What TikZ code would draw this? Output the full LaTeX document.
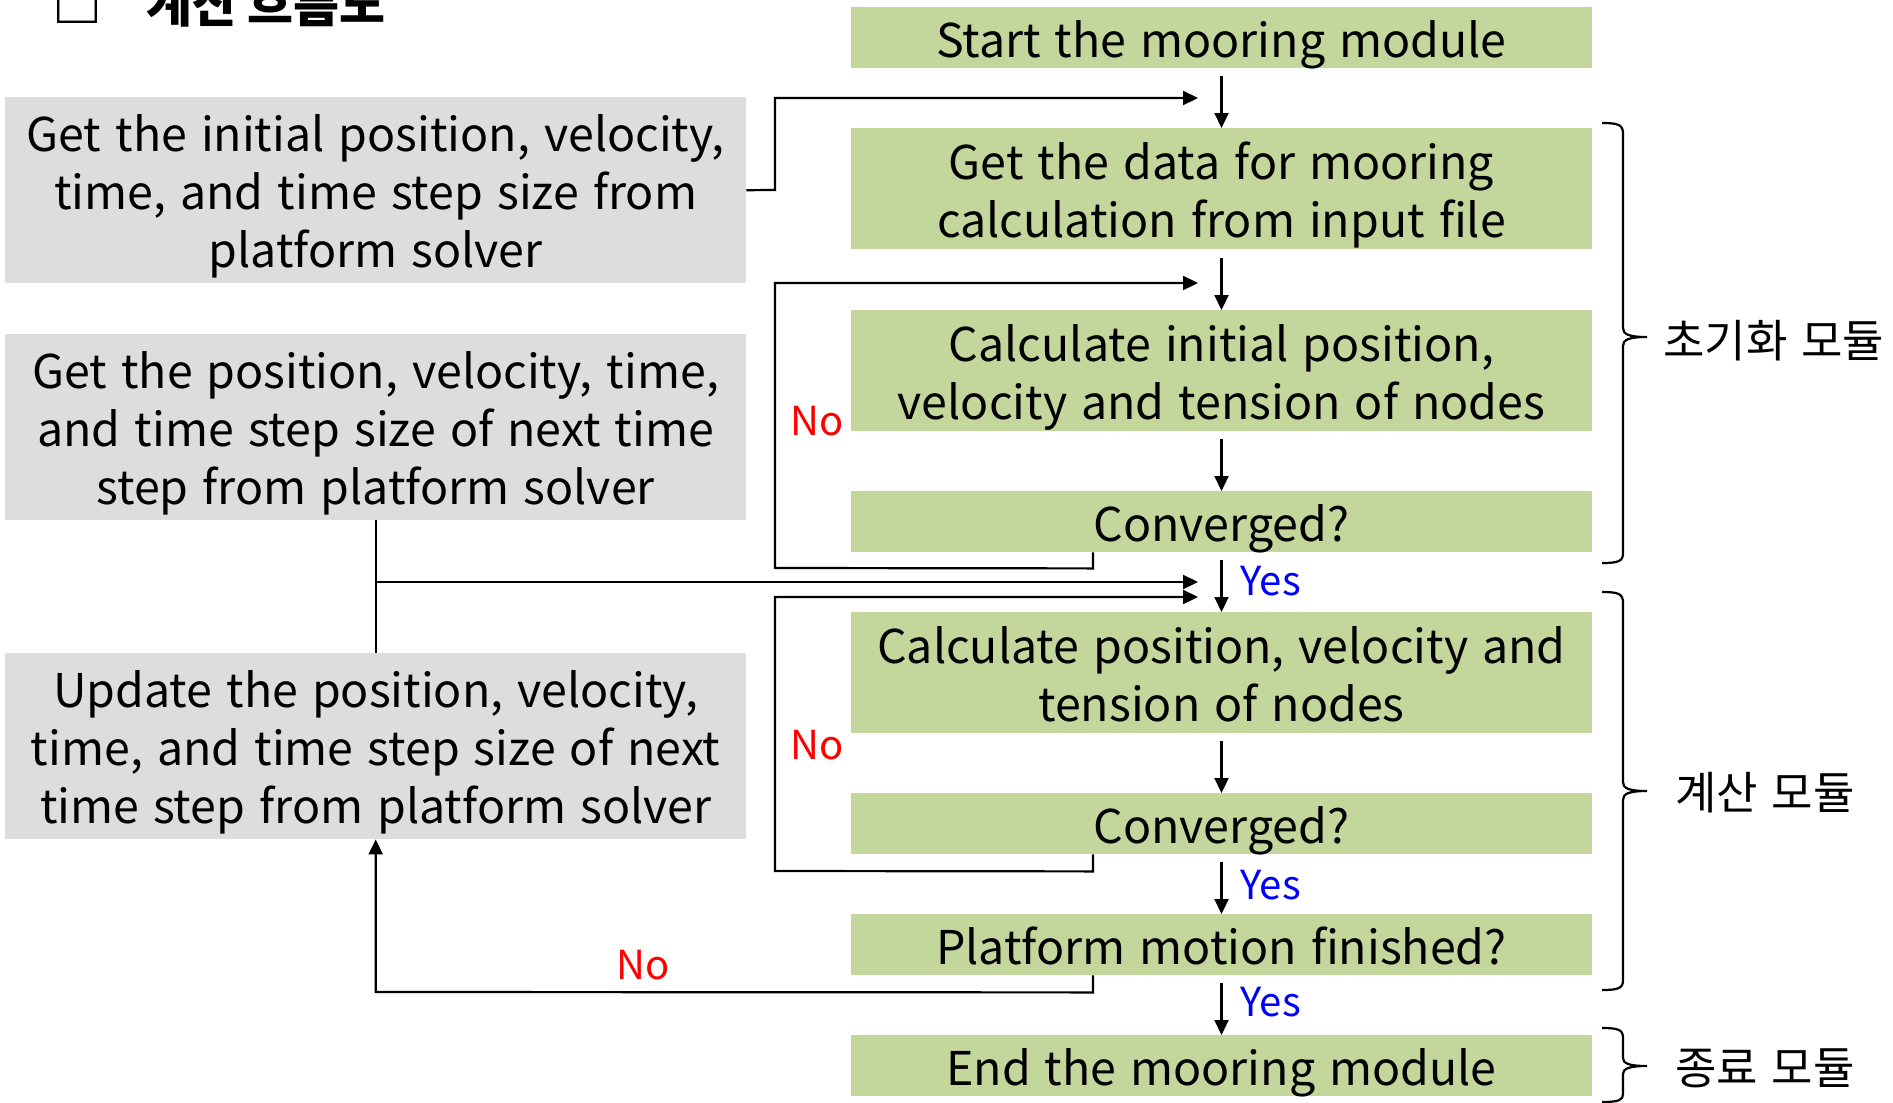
\documentclass[tikz,border=0pt]{standalone}
\usepackage{fontspec}
\setmainfont[WordSpace=1.35]{Noto Sans CJK KR}
\usetikzlibrary{arrows.meta,calc}
\definecolor{stepgreen}{HTML}{C3D69B}
\definecolor{solvergray}{HTML}{DDDDDD}
\definecolor{nored}{HTML}{FF0000}
\definecolor{yesblue}{HTML}{0000FF}
% centred block of lines, set slightly below the optical middle of its box
\newcommand{\boxlines}[1]{\raisebox{-8pt}[\height][\depth]{\begin{tabular}{@{}c@{}}#1\end{tabular}}}
\begin{document}
\begin{tikzpicture}[x=1pt,y=-1pt,
  txt/.style={font=\fontsize{46.5}{58}\selectfont},
  greenbox/.style={txt,fill=stepgreen,minimum width=741pt,inner sep=0pt,anchor=north},
  onerow/.style={greenbox,minimum height=61pt},
  tworow/.style={greenbox,minimum height=121pt},
  graybox/.style={txt,fill=solvergray,minimum width=741pt,minimum height=186pt,inner sep=0pt,anchor=north west},
  wire/.style={line width=2.2pt,line join=miter},
  flow/.style={wire,-{Triangle[length=15pt,width=14pt]}},
  nolabel/.style={text=nored,font=\fontsize{40}{48}\selectfont},
  yeslabel/.style={text=yesblue,font=\fontsize{40}{48}\selectfont,anchor=west},
  modlabel/.style={font=\fontsize{45}{50}\selectfont,anchor=west},
  bracket/.style={line width=2.2pt}]
\useasboundingbox (0,0) rectangle (1893,1103);

% heading, mostly above the top edge
\node[anchor=base west,font=\bfseries\fontsize{50}{56}\selectfont,inner sep=0pt] (hbox) at (52,22) {□};
\node[anchor=base west,font=\bfseries\fontsize{50}{56}\selectfont,inner sep=0pt] (hw1) at (146,22) {계산};
\node[anchor=base west,font=\bfseries\fontsize{50}{56}\selectfont,inner sep=0pt] (hw2) at (247,22) {흐름도};

% main column
\node[onerow] (start) at (1221.5,7)   {\boxlines{Start the mooring module}};
\node[tworow] (data)  at (1221.5,128) {\boxlines{Get the data for mooring\\calculation from input file}};
\node[tworow] (init)  at (1221.5,310) {\boxlines{Calculate initial position,\\velocity and tension of nodes}};
\node[onerow] (conv1) at (1221.5,491) {\boxlines{Converged?}};
\node[tworow] (calc)  at (1221.5,612) {\boxlines{Calculate position, velocity and\\tension of nodes}};
\node[onerow] (conv2) at (1221.5,793) {\boxlines{Converged?}};
\node[onerow] (plat)  at (1221.5,914) {\boxlines{Platform motion finished?}};
\node[onerow] (endm)  at (1221.5,1035) {\boxlines{End the mooring module}};

% platform solver column
\node[graybox] (g1) at (5,97)  {\boxlines{Get the initial position, velocity,\\time, and time step size from\\platform solver}};
\node[graybox] (g2) at (5,334) {\boxlines{Get the position, velocity, time,\\and time step size of next time\\step from platform solver}};
\node[graybox] (g3) at (5,653) {\boxlines{Update the position, velocity,\\time, and time step size of next\\time step from platform solver}};

% entry points beside the main arrows
\coordinate (in1) at (1198,98);
\coordinate (in2) at (1198,283);
\coordinate (in3) at (1198,582);
\coordinate (in4) at (1198,597);
\coordinate (c1) at ([xshift=-128.5pt]conv1.south);
\coordinate (c2) at ([xshift=-128.5pt]conv2.south);
\coordinate (c3) at ([xshift=-128.5pt]plat.south);
\coordinate (split) at (g2.south |- in3);

% downward flow
\draw[flow] ([yshift=-8pt]start.south) -- (data.north);
\draw[flow] ([yshift=-9pt]data.south)  -- (init.north);
\draw[flow] ([yshift=-8pt]init.south)  -- (conv1.north);
\draw[flow] ([yshift=-8pt]conv1.south) -- (calc.north);
\draw[flow] ([yshift=-8pt]calc.south)  -- (conv2.north);
\draw[flow] ([yshift=-8pt]conv2.south) -- (plat.north);
\draw[flow] ([yshift=-8pt]plat.south)  -- (endm.north);

% solver inputs
\draw[flow] (g1.east) -- (775,190) -- (775,98) -- (in1);
\draw[wire] (g2.south) -- (g3.north);
\draw[flow] (split) -- (in3);

% iteration loops
\draw[flow] (c1) -- ++(0,16) -- (775,568) -- (775,283) -- (in2);
\draw[flow] (c2) -- ++(0,17) -- (775,871) -- (775,597) -- (in4);
\draw[flow] (c3) -- ++(0,17) -- (g3.south |- 0,992) -- (g3.south);

% branch labels
\node[nolabel] (no1) at (817,421) {No};
\node[nolabel] (no2) at (817,745) {No};
\node[nolabel] (no3) at (643,965) {No};
\node[yeslabel] (yes1) at (1237,581) {Yes};
\node[yeslabel] (yes2) at (1237,885) {Yes};
\node[yeslabel] (yes3) at (1237,1002) {Yes};

% module braces
\draw[bracket] (1602,123) .. controls (1619,123) and (1623,125) .. (1623,134) -- (1623,328)
  .. controls (1623,334) and (1628,337) .. (1647,337)
  .. controls (1628,337) and (1623,340) .. (1623,346) -- (1623,553)
  .. controls (1623,561) and (1619,563) .. (1602,563);
\draw[bracket] (1602,592) .. controls (1619,592) and (1623,594) .. (1623,603) -- (1623,782)
  .. controls (1623,788) and (1628,791) .. (1647,791)
  .. controls (1628,791) and (1623,794) .. (1623,800) -- (1623,980)
  .. controls (1623,988) and (1619,990) .. (1602,990);
\draw[bracket] (1602,1028) .. controls (1619,1028) and (1623,1030) .. (1623,1038) -- (1623,1058)
  .. controls (1623,1063) and (1628,1066) .. (1647,1066)
  .. controls (1628,1066) and (1623,1069) .. (1623,1074) -- (1623,1094)
  .. controls (1623,1100) and (1619,1102) .. (1602,1102);
\node[modlabel] (m1) at (1660,341) {초기화 모듈};
\node[modlabel] (m2) at (1672,793) {계산 모듈};
\node[modlabel] (m3) at (1672,1068) {종료 모듈};
\end{tikzpicture}
\end{document}
